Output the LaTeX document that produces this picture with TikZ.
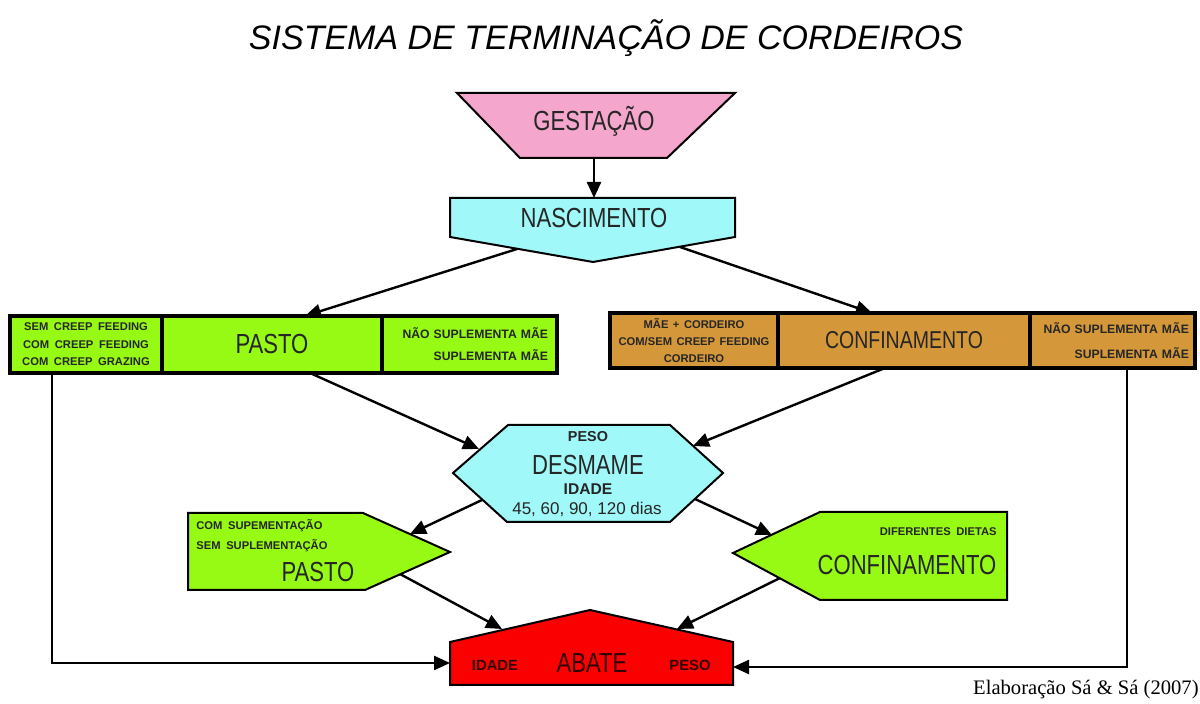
\documentclass[tikz,border=0pt]{standalone}
\usepackage{fontspec}
\setmainfont{Liberation Sans}
\newfontfamily\narrowsf[FakeStretch=0.8]{Liberation Sans}
\newfontfamily\creditfont{Liberation Serif}
\usetikzlibrary{arrows.meta,positioning}

\definecolor{gestpink}{RGB}{244,166,204}
\definecolor{nasccyan}{RGB}{160,248,248}
\definecolor{pastogreen}{RGB}{150,250,20}
\definecolor{confbrown}{RGB}{212,152,58}
\definecolor{abatered}{RGB}{250,0,0}

\newcommand\tinyfont[2][0.5em]{\fontsize{5.6}{#2}\selectfont\bfseries\spaceskip#1\relax}
\newcommand\sidefont[1]{\fontsize{6.1}{#1}\selectfont\bfseries\spaceskip0.55em\relax}
\newcommand\bigfont{\narrowsf\fontsize{13.8}{15}\selectfont}

\begin{document}
\begin{tikzpicture}
[x=0.5pt, y=-0.5pt,
big/.style={font=\bigfont, text=black!85, inner sep=0pt},
tiny/.style={font={\tinyfont{8.75}}, text=black!85, inner sep=0pt},
block/.style={draw=black, line width=1pt, line join=miter},
cell/.style={draw=black, line width=2.2pt, inner sep=0pt, outer sep=0pt},
arr/.style={-{Triangle[length=8pt,width=7pt]}, line width=1.2pt}]

\useasboundingbox (0,0) rectangle (1200,704);

\node (title) at (606,38) {\fontsize{17}{20}\selectfont\itshape SISTEMA DE TERMINAÇÃO DE CORDEIROS};

% gestacao and nascimento
\filldraw[block, fill=gestpink] (457,93) -- (735,93) -- (667,158) -- (520,158) -- cycle;
\node[big] (gestacao) at (594,121) {GESTAÇÃO};
\coordinate (gest-s) at (594,158);

\filldraw[block, fill=nasccyan] (450,198) -- (735,198) -- (735,237) -- (593,262) -- (450,237) -- cycle;
\node[big] (nascimento) at (594,218) {NASCIMENTO};
\coordinate (nasc-n) at (594,198);
\coordinate (nasc-sw) at (517,249);
\coordinate (nasc-se) at (680,247);

% first phase
\node[cell, fill=pastogreen, minimum width=76pt, minimum height=28.5pt, align=center,
      tiny] (pastoL) at (86,344.5) {SEM CREEP FEEDING\\COM CREEP FEEDING\\COM CREEP GRAZING};
\node[cell, fill=pastogreen, minimum width=110pt, minimum height=28.5pt, big,
      right=0pt of pastoL] (pasto) {PASTO};
\node[cell, fill=pastogreen, tiny, font={\sidefont{11}}, text width=78.5pt, inner xsep=4.5pt,
      minimum height=28.5pt, align=right, right=0pt of pasto] (pastoR) {NÃO SUPLEMENTA MÃE\\SUPLEMENTA MÃE};

\node[cell, fill=confbrown, minimum width=84pt, minimum height=27.5pt, align=center,
      tiny, font={\tinyfont[0.4em]{8.5}}] (confL) at (694,340.5) {MÃE + CORDEIRO\\COM/SEM CREEP FEEDING\\CORDEIRO};
\node[cell, fill=confbrown, minimum width=126pt, minimum height=27.5pt, big,
      font=\narrowsf\fontsize{12.2}{14}\selectfont, right=0pt of confL] (conf) {CONFINAMENTO};
\node[cell, fill=confbrown, tiny, font={\sidefont{12.5}}, text width=76.5pt, inner xsep=3pt,
      minimum height=27.5pt, align=right, right=0pt of conf] (confR) {NÃO SUPLEMENTA MÃE\\SUPLEMENTA MÃE};

% desmame
\filldraw[block, fill=nasccyan] (508,425) -- (670,425) -- (723,473) -- (670,522) -- (507,522) -- (453,473) -- cycle;
\node[tiny, font=\fontsize{7.2}{8}\selectfont\bfseries] (desPeso) at (588,437) {PESO};
\node[big] (desmame) at (588,465) {DESMAME};
\node[tiny, font=\fontsize{7.8}{9}\selectfont\bfseries] (desIdade) at (588,489) {IDADE};
\node[tiny, font=\fontsize{8.5}{9}\selectfont] (desDias) at (587,509) {45, 60, 90, 120 dias};
\coordinate (des-nw) at (479,449);
\coordinate (des-ne) at (693,446);
\coordinate (des-sw) at (482,500);
\coordinate (des-se) at (695,499);

% second phase
\filldraw[block, fill=pastogreen] (188,513) -- (363,513) -- (450,552) -- (365,590) -- (188,590) -- cycle;
\node[tiny, anchor=west] (pasto2a) at (196,526) {COM SUPEMENTAÇÃO};
\node[tiny, anchor=west] (pasto2b) at (196,546) {SEM SUPLEMENTAÇÃO};
\node[big] (pasto2) at (318,572) {PASTO};
\coordinate (pasto2-ne) at (410,534);
\coordinate (pasto2-se) at (400,574);

\filldraw[block, fill=pastogreen] (733,553) -- (820,512) -- (1007,512) -- (1007,600) -- (820,600) -- cycle;
\node[tiny, anchor=east] (conf2a) at (997,532) {DIFERENTES DIETAS};
\node[big] (conf2) at (907,565) {CONFINAMENTO};
\coordinate (conf2-nw) at (772,535);
\coordinate (conf2-sw) at (780,578);

% abate
\filldraw[block, fill=abatered] (450,685) -- (450,642) -- (590,610) -- (733,642) -- (733,685) -- cycle;
\node[tiny, font=\fontsize{7.4}{8}\selectfont\bfseries, text=black!80!red] (abIdade) at (495,665) {IDADE};
\node[big, text=black!80!red] (abate) at (592,663) {ABATE};
\node[tiny, font=\fontsize{7.4}{8}\selectfont\bfseries, text=black!80!red] (abPeso) at (690,665) {PESO};
\coordinate (ab-w) at (450,663);
\coordinate (ab-e) at (733,667);
\coordinate (ab-nw) at (502,629);
\coordinate (ab-ne) at (677,629);

\draw[arr] (gest-s) -- (nasc-n);
\draw[arr] (nasc-sw) -- ([xshift=16.5pt]pasto.north);
\draw[arr] (nasc-se) -- ([xshift=-16pt]conf.north);
\draw[arr] ([xshift=19pt]pasto.south) -- (des-nw);
\draw[arr] ([xshift=-9.5pt]conf.south) -- (des-ne);
\draw[arr] (des-sw) -- (pasto2-ne);
\draw[arr] (des-se) -- (conf2-nw);
\draw[arr] (pasto2-se) -- (ab-nw);
\draw[arr] (conf2-sw) -- (ab-ne);
\draw[arr] ([xshift=21pt]pastoL.south west) |- (ab-w);
\draw[arr] ([xshift=-34pt]confR.south east) |- (ab-e);

\node[anchor=east, inner sep=0pt] (credit) at (1199,690) {\creditfont\fontsize{10.3}{12}\selectfont Elaboração Sá \& Sá (2007)};
\end{tikzpicture}
\end{document}
